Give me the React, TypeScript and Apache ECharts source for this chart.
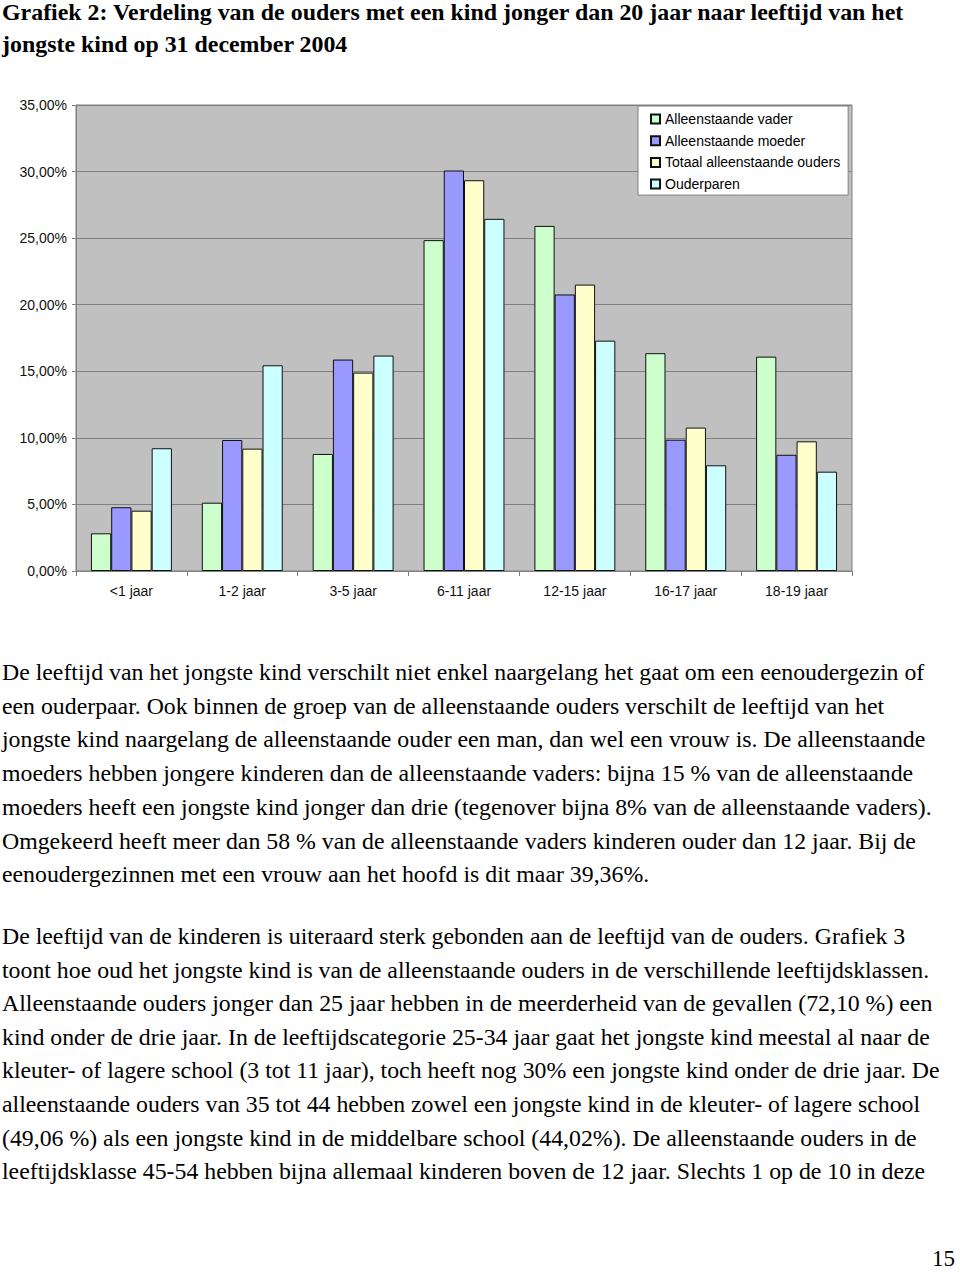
import React, { useEffect, useRef } from "react";
import * as echarts from "echarts";

const categories = ["<1 jaar", "1-2 jaar", "3-5 jaar", "6-11 jaar", "12-15 jaar", "16-17 jaar", "18-19 jaar"];
const seriesNames = ["Alleenstaande vader", "Alleenstaande moeder", "Totaal alleenstaande ouders", "Ouderparen"];
const vader = [2.83, 5.13, 8.79, 24.85, 25.92, 16.36, 16.1];
const moeder = [4.79, 9.84, 15.88, 30.08, 20.77, 9.86, 8.73];
const totaal = [4.53, 9.19, 14.9, 29.35, 21.51, 10.77, 9.74];
const ouderparen = [9.22, 15.45, 16.18, 26.45, 17.3, 7.94, 7.46];
const seriesColors = ["#CCFFCC", "#9999FF", "#FFFFCC", "#CCFFFF"];
const yMin = 0;
const yMax = 35;
const yStep = 5;

const titleLines = [
  "Grafiek 2: Verdeling van de ouders met een kind jonger dan 20 jaar naar leeftijd van het",
  "jongste kind op 31 december 2004",
];
const para1 = [
  "De leeftijd van het jongste kind verschilt niet enkel naargelang het gaat om een eenoudergezin of",
  "een ouderpaar. Ook binnen de groep van de alleenstaande ouders verschilt de leeftijd van het",
  "jongste kind naargelang de alleenstaande ouder een man, dan wel een vrouw is. De alleenstaande",
  "moeders hebben jongere kinderen dan de alleenstaande vaders: bijna 15 % van de alleenstaande",
  "moeders heeft een jongste kind jonger dan drie (tegenover bijna 8% van de alleenstaande vaders).",
  "Omgekeerd heeft meer dan 58 % van de alleenstaande vaders kinderen ouder dan 12 jaar. Bij de",
  "eenoudergezinnen met een vrouw aan het hoofd is dit maar 39,36%.",
];
const para2 = [
  "De leeftijd van de kinderen is uiteraard sterk gebonden aan de leeftijd van de ouders. Grafiek 3",
  "toont hoe oud het jongste kind is van de alleenstaande ouders in de verschillende leeftijdsklassen.",
  "Alleenstaande ouders jonger dan 25 jaar hebben in de meerderheid van de gevallen (72,10 %) een",
  "kind onder de drie jaar. In de leeftijdscategorie 25-34 jaar gaat het jongste kind meestal al naar de",
  "kleuter- of lagere school (3 tot 11 jaar), toch heeft nog 30% een jongste kind onder de drie jaar. De",
  "alleenstaande ouders van 35 tot 44 hebben zowel een jongste kind in de kleuter- of lagere school",
  "(49,06 %) als een jongste kind in de middelbare school (44,02%). De alleenstaande ouders in de",
  "leeftijdsklasse 45-54 hebben bijna allemaal kinderen boven de 12 jaar. Slechts 1 op de 10 in deze",
];
const pageNumber = "15";

const SERIF = "'Liberation Serif', 'Times New Roman', Tinos, serif";
const SANS = "'Liberation Sans', Arial, sans-serif";

export default function App() {
  const ref = useRef<HTMLDivElement>(null);
  useEffect(() => {
    if (!ref.current) return;
    const chart = echarts.init(ref.current, undefined, { renderer: "svg" });

    const titleSize = 23.9;
    const bodySize = 23.8;

    const textStyle = (t: string, size: number, weight: string, extra: any = {}) => ({
      text: t,
      fontFamily: SERIF,
      fontSize: size,
      fontWeight: weight,
      fill: "#000",
      textVerticalAlign: "middle",
      ...extra,
    });

    const graphics: any[] = [];
    titleLines.forEach((t, i) => {
      graphics.push({
        type: "text",
        x: 2,
        y: 12 + i * 32,
        style: textStyle(t, titleSize, "bold"),
      });
    });
    para1.forEach((t, i) => {
      graphics.push({
        type: "text",
        x: 2,
        y: 672 + i * 33.7,
        style: textStyle(t, bodySize, "normal"),
      });
    });
    para2.forEach((t, i) => {
      graphics.push({
        type: "text",
        x: 2,
        y: 936 + i * 33.6,
        style: textStyle(t, bodySize, "normal"),
      });
    });
    graphics.push({
      type: "text",
      x: 955,
      y: 1258,
      style: textStyle(pageNumber, 23, "normal", { textAlign: "right" }),
    });

    const dataSets = [vader, moeder, totaal, ouderparen];

    chart.setOption({
      animation: false,
      backgroundColor: "#ffffff",
      textStyle: { fontFamily: SANS },
      grid: {
        left: 76,
        top: 105,
        width: 776,
        height: 466,
        show: true,
        backgroundColor: "#C0C0C0",
        borderColor: "#808080",
        borderWidth: 1,
      },
      legend: {
        orient: "vertical",
        left: 638,
        top: 106,
        backgroundColor: "#ffffff",
        borderColor: "#808080",
        borderWidth: 1,
        borderRadius: 0,
        padding: [6, 8, 4, 12],
        itemWidth: 9,
        itemHeight: 9,
        itemGap: 7.7,
        icon: "rect",
        data: seriesNames,
        textStyle: { fontSize: 14, lineHeight: 14, color: "#000", fontFamily: SANS },
      },
      xAxis: {
        type: "category",
        data: categories,
        axisLine: { lineStyle: { color: "#808080", width: 1 } },
        axisTick: { show: true, length: 5, lineStyle: { color: "#808080" } },
        axisLabel: { color: "#111", fontSize: 14, margin: 13, fontFamily: SANS },
        splitLine: { show: false },
      },
      yAxis: {
        type: "value",
        min: yMin,
        max: yMax,
        interval: yStep,
        axisLine: { show: true, lineStyle: { color: "#808080", width: 1 } },
        axisTick: { show: true, length: 4, lineStyle: { color: "#808080" } },
        axisLabel: {
          color: "#111",
          fontSize: 14,
          margin: 9,
          fontFamily: SANS,
          formatter: (v: number) => v.toFixed(2).replace(".", ",") + "%",
        },
        splitLine: { show: true, lineStyle: { color: "#808080", width: 1 } },
      },
      series: dataSets.map((d, i) => ({
        name: seriesNames[i],
        type: "bar",
        data: d,
        barGap: "0%",
        barCategoryGap: "27%",
        itemStyle: { color: seriesColors[i], borderColor: "#111", borderWidth: 1 },
      })),
      graphic: graphics,
    });

    return () => chart.dispose();
  }, []);

  return (
    <div
      ref={ref}
      style={{ position: "absolute", left: 0, top: 0, width: 960, height: 1272, background: "#fff" }}
    />
  );
}
